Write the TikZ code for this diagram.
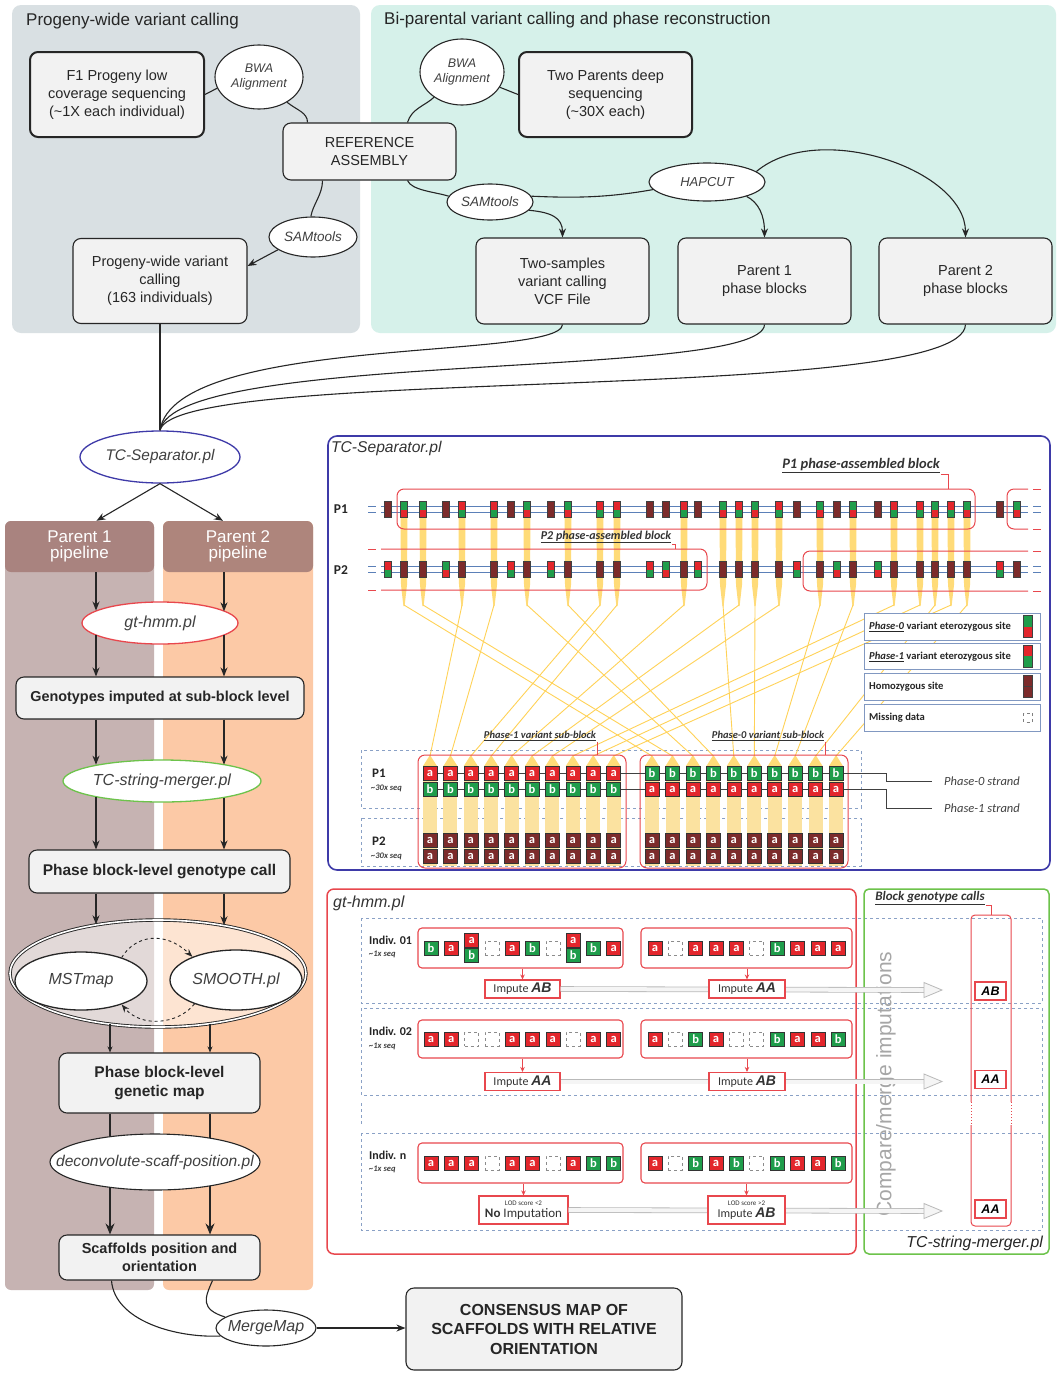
\documentclass[tikz,border=0pt]{standalone}
\usepackage{fontspec}
\setmainfont{Liberation Sans}
\newfontfamily\carl{Carlito}
\usetikzlibrary{arrows.meta,shapes.geometric,calc}

\definecolor{panelgray}{HTML}{D9E0E3}
\definecolor{panelmint}{HTML}{D6F1EA}
\definecolor{boxfill}{HTML}{F2F2F2}
\definecolor{hdrA}{HTML}{A9837F}
\definecolor{colA}{HTML}{C6B3B2}
\definecolor{hdrB}{HTML}{AE857C}
\definecolor{colB}{HTML}{FCC9A6}
\definecolor{sepblue}{HTML}{3E3AA8}
\definecolor{hmmred}{HTML}{E8474D}
\definecolor{mrggreen}{HTML}{6DC34B}
\definecolor{cR}{HTML}{E3262C}
\definecolor{cG}{HTML}{1F9D4B}
\definecolor{cH}{HTML}{7C2B2B}
\definecolor{strandblue}{HTML}{5B80B8}
\definecolor{yel}{HTML}{FFD257}
\definecolor{yelpale}{HTML}{FBE2A0}
\definecolor{dashblue}{HTML}{8AA1C6}
\definecolor{legblue}{HTML}{8198C1}

\newcommand\fsz[2]{\fontsize{#1}{#2}\selectfont}
% one two-allele variant site: x, y centre, upper colour, lower colour
\newcommand\gsite[4]{%
  \fill[#3] (#1-3.5,#2-8) rectangle (#1+3.5,#2);
  \fill[#4] (#1-3.5,#2) rectangle (#1+3.5,#2+8);
  \draw[black!75, line width=.6pt] (#1-3.5,#2-8) rectangle (#1+3.5,#2+8);}

\tikzset{
  rbox/.style={draw=black!85, line width=1.1pt, fill=boxfill, rounded corners=8pt,
    align=center, inner sep=2pt, text=black!85, font=\fsz{14.5}{18}},
  thickbox/.style={rbox, line width=2pt},
  bbox/.style={rbox, font=\bfseries\fsz{15.5}{19}},
  ovl/.style={ellipse, draw=black!85, line width=1.1pt, fill=white, inner sep=0pt},
  olbl/.style={align=center, text=black!75, inner sep=0pt},
  conn/.style={draw=black!85, line width=1.1pt},
  connA/.style={conn, -{Stealth[length=9pt,width=7pt]}},
  connS/.style={conn, -{Stealth[length=6pt,width=5pt]}},
  connL/.style={conn, -{Stealth[length=11pt,width=9pt]}},
  hdr/.style={rounded corners=6pt, minimum width=149pt, minimum height=51pt,
    text=white, align=center, font=\fsz{17}{16}},
  strand/.style={draw=strandblue, line width=1.1pt},
  redline/.style={draw=hmmred, line width=1pt},
  leader/.style={draw=hmmred, line width=.8pt},
  gcell/.style={minimum size=14pt, inner sep=0pt, draw=black!80, line width=.5pt,
    text=white, font=\carl\bfseries\fsz{12.5}{12}},
  gc-a/.style={gcell, fill=cR, node contents=a},
  gc-b/.style={gcell, fill=cG, node contents=b},
  gc-e/.style={gcell, draw=black!45, dashed, line width=.6pt, fill=white, node contents={}},
  gc-d/.style={gcell, draw=none, node contents={}},
  grp/.style={draw=hmmred, line width=1.1pt, rounded corners=4pt, inner sep=0pt},
  imp/.style={draw=hmmred, line width=1.1pt, fill=white, inner sep=1pt, align=center,
    text=black!80, font=\carl\fsz{12}{12}},
  redarr/.style={draw=hmmred, line width=1pt, -{Stealth[length=5pt,width=4.5pt]}},
  band/.style={draw=gray!55, line width=.8pt, double=gray!8, double distance=4pt},
  bhead/.style={draw=gray!55, line width=.8pt, fill=gray!8},
  gcall/.style={draw=hmmred, line width=1.3pt, fill=white, minimum width=31pt,
    minimum height=18pt, inner sep=0pt, font=\bfseries\itshape\fsz{12.5}{12}},
  legbox/.style={draw=legblue, line width=1.2pt, fill=white, minimum width=176pt,
    minimum height=27pt, anchor=north west, inner sep=0pt},
  legtxt/.style={anchor=west, inner sep=0pt, text=black!85, font=\carl\bfseries\fsz{10.6}{10}},
  dashrow/.style={draw=dashblue, dashed, line width=.9pt},
}

\begin{document}
\begin{tikzpicture}[x=1pt,y=-1pt]
\useasboundingbox (0,0) rectangle (1058,1373);
\fill[white] (0,0) rectangle (1058,1373);

% ---------------- top panels ----------------
\fill[panelgray, rounded corners=9pt] (12,5) rectangle (360,333);
\fill[panelmint, rounded corners=9pt] (371,5) rectangle (1056,333);
\node[anchor=west, inner sep=0pt, text=black!85, font=\fsz{17}{18}] (t1) at (26,21) {Progeny-wide variant calling};
\node[anchor=west, inner sep=0pt, text=black!85, font=\fsz{17}{18}] (t2) at (384,20) {Bi-parental variant calling and phase reconstruction};

\node[thickbox, minimum width=174pt, minimum height=85pt] (f1) at (117,94.5) {F1 Progeny low\\coverage sequencing\\(\textasciitilde1X each individual)};
\node[rbox, minimum width=173pt, minimum height=57pt] (ref) at (369.5,151.5) {REFERENCE\\ASSEMBLY};
\node[rbox, minimum width=174pt, minimum height=85pt] (prog) at (160,281) {Progeny-wide variant\\calling\\(163 individuals)};
\node[thickbox, minimum width=173pt, minimum height=85pt] (twop) at (605.5,94.5) {Two Parents deep\\sequencing\\(\textasciitilde30X each)};
\node[rbox, minimum width=173pt, minimum height=86pt] (twos) at (562.5,281) {Two-samples\\variant calling\\VCF File};
\node[rbox, minimum width=173pt, minimum height=86pt] (par1) at (764.5,281) {Parent 1\\phase blocks};
\node[rbox, minimum width=173pt, minimum height=86pt] (par2) at (965.5,281) {Parent 2\\phase blocks};

\node[ovl, minimum width=88pt, minimum height=64pt] (bwa1) at (259,77) {};
\node[olbl, font=\itshape\fsz{12.5}{15}] (bwa1t) at (bwa1) {BWA\\Alignment};
\node[ovl, minimum width=88pt, minimum height=40pt] (sam1) at (313,237) {};
\node[olbl, font=\itshape\fsz{13.5}{13}] (sam1t) at (sam1) {SAMtools};
\node[ovl, minimum width=84pt, minimum height=66pt] (bwa2) at (462,72) {};
\node[olbl, font=\itshape\fsz{12.5}{15}] (bwa2t) at (bwa2) {BWA\\Alignment};
\node[ovl, minimum width=86pt, minimum height=36pt] (sam2) at (490,202) {};
\node[olbl, font=\itshape\fsz{13.5}{13}] (sam2t) at (sam2) {SAMtools};
\node[ovl, minimum width=116pt, minimum height=38pt] (hap) at (707,182) {};
\node[olbl, font=\itshape\fsz{13}{13}] (hapt) at (hap) {HAPCUT};

\draw[conn] (f1.east) -- (bwa1.195);
\draw[conn] (bwa1.318) .. controls +(10,8) and +(0,-10) .. ([xshift=-62pt]ref.north);
\draw[conn] ([xshift=-47pt]ref.south) .. controls +(0,14) and +(2,-12) .. (sam1.96);
\draw[connA] (sam1.200) -- ([yshift=15pt]prog.east);
\draw[conn] ([xshift=38pt]ref.north) .. controls +(4,-14) and +(-8,8) .. (bwa2.222);
\draw[conn] (bwa2.-22) -- (twop.west);
\draw[conn] ([xshift=38pt]ref.south) .. controls +(4,10) and +(-12,-4) .. (sam2.172);
\draw[conn] (sam2.8) .. controls +(45,2) and +(-45,8) .. (hap.188);
\draw[connA] (sam2.-12) .. controls +(22,2) and +(0,-20) .. (twos.north);
\draw[connA] (hap.-20) .. controls +(12,6) and +(0,-22) .. (par1.north);
\draw[connA] (hap.12) .. controls +(62,-52) and +(0,-68) .. (par2.north);

% ---------------- separator ----------------
\node[ovl, draw=sepblue, line width=1.3pt, minimum width=160pt, minimum height=52pt] (tcs) at (160,457) {};
\node[olbl, font=\itshape\fsz{15.4}{15}] (tcst) at (tcs) {TC-Separator.pl};
\draw[conn] (prog.south) -- (tcs.north);
\draw[conn] (twos.south) .. controls +(-2,36) and +(15,-96) .. (tcs.north);
\draw[conn] (par1.south) .. controls +(-2,56) and +(15,-81) .. (tcs.north);
\draw[conn] (par2.south) .. controls +(-3,81) and +(15,-66) .. (tcs.north);

% ---------------- pipeline columns ----------------
\fill[colA, rounded corners=6pt] (5,521) rectangle (154,1290);
\fill[colB, rounded corners=6pt] (163,521) rectangle (313,1290);
\node[hdr, fill=hdrA] (h1) at (79.5,546.5) {Parent 1\\pipeline};
\node[hdr, fill=hdrB, minimum width=150pt] (h2) at (238,546.5) {Parent 2\\pipeline};
\coordinate (L1) at (96,0);
\coordinate (L2) at (224,0);
\coordinate (M1) at (110,0);
\coordinate (M2) at (210,0);
\draw[connA] (tcs.south) -- ([xshift=17pt]h1.north);
\draw[connA] (tcs.south) -- ([xshift=-15pt]h2.north);

\node[ovl, draw=hmmred, line width=1.3pt, minimum width=156pt, minimum height=42pt] (gth) at (160,623) {};
\node[olbl, font=\itshape\fsz{16}{16}] (gtht) at (gth) {gt-hmm.pl};
\node[rbox, font=\bfseries\fsz{14.4}{16}, minimum width=288pt, minimum height=42pt] (geno) at (160,698) {Genotypes imputed at sub-block level};
\node[ovl, draw=mrggreen, line width=1.3pt, minimum width=198pt, minimum height=42pt] (tcm) at (162,781) {};
\node[olbl, font=\itshape\fsz{16}{16}] (tcmt) at (tcm) {TC-string-merger.pl};
\node[bbox, minimum width=261pt, minimum height=43pt] (pbgc) at (159.5,871.5) {Phase block-level genotype call};

\node[ellipse, draw=black!85, line width=.9pt, double=white, double distance=1.6pt, fill=white, fill opacity=.5, minimum width=296pt, minimum height=107pt, inner sep=0pt] (big) at (158,973.5) {};
\node[ovl, line width=1.3pt, minimum width=132pt, minimum height=58pt] (mst) at (81,981) {};
\node[olbl, font=\itshape\fsz{16}{16}] (mstt) at (mst) {MSTmap};
\node[ovl, line width=1.3pt, minimum width=132pt, minimum height=60pt] (smo) at (236,980) {};
\node[olbl, font=\itshape\fsz{16}{16}] (smot) at (smo) {SMOOTH.pl};
\draw[conn, line width=.9pt, dashed, -{Stealth[length=8pt,width=6pt]}] (mst.30) .. controls +(14,-23) and +(-27,-26) .. (smo.152);
\draw[conn, line width=.9pt, dashed, -{Stealth[length=8pt,width=6pt]}] (smo.210) .. controls +(-17,21) and +(19,23) .. (mst.-30);

\node[bbox, minimum width=201pt, minimum height=60pt] (gmap) at (159.5,1083) {Phase block-level\\genetic map};
\node[ovl, minimum width=210pt, minimum height=56pt] (dec) at (155,1162) {};
\node[olbl, font=\itshape\fsz{15.6}{15}] (dect) at (dec) {deconvolute-scaff-position.pl};
\node[bbox, font=\bfseries\fsz{14.5}{18}, minimum width=201pt, minimum height=45pt] (scaf) at (159.5,1257.5) {Scaffolds position and\\orientation};

\draw[connA] (L1 |- h1.south) -- (L1 |- gth.169.4);
\draw[connA] (L2 |- h2.south) -- (L2 |- gth.10.6);
\draw[connA] (L1 |- gth.190.6) -- (L1 |- geno.north);
\draw[connA] (L2 |- gth.349.4) -- (L2 |- geno.north);
\draw[connA] (L1 |- geno.south) -- (L1 |- tcm.166.6);
\draw[connA] (L2 |- geno.south) -- (L2 |- tcm.14.8);
\draw[connA] (L1 |- tcm.193.4) -- (L1 |- pbgc.north);
\draw[connA] (L2 |- tcm.345.2) -- (L2 |- pbgc.north);
\draw[connA] (L1 |- pbgc.south) -- (L1 |- big.141.9);
\draw[connA] (L2 |- pbgc.south) -- (L2 |- big.36.0);
\draw[connS] (M1 |- big.226.5) -- (M1 |- gmap.north);
\draw[connS] (M2 |- big.316.1) -- (M2 |- gmap.north);
\draw[conn] (M1 |- gmap.south) -- (M1 |- dec.150.8);
\draw[conn] (M2 |- gmap.south) -- (M2 |- dec.23.4);
\draw[connL] (M1 |- dec.209.2) -- (M1 |- scaf.north);
\draw[connL] (M2 |- dec.336.6) -- (M2 |- scaf.north);

% ---------------- merge ----------------
\node[ovl, minimum width=100pt, minimum height=36pt] (mm) at (266,1328) {};
\node[olbl, font=\itshape\fsz{16}{16}] (mmt) at (mm) {MergeMap};
\node[bbox, font=\bfseries\fsz{16}{19.5}, minimum width=276pt, minimum height=82pt] (cons) at (544,1329) {CONSENSUS MAP OF\\SCAFFOLDS WITH RELATIVE\\ORIENTATION};
\draw[conn] ([xshift=-48pt]scaf.south) .. controls +(3,40) and +(-45,2) .. (mm.190);
\draw[conn] ([xshift=53pt]scaf.south) .. controls +(-8,18) and +(-25,-8) .. (mm.165);
\draw[connA] (mm.east) -- (cons.west |- mm.east);

% ---------------- TC-Separator panel ----------------
\draw[sepblue, line width=1.6pt, rounded corners=9pt] (328,436) rectangle (1050,870);
\node[anchor=west, inner sep=0pt, text=black!80, font=\itshape\fsz{15.6}{15}] (sepT) at (331,448) {TC-Separator.pl};

\draw[dashrow] (361,750) rectangle (861,808);
\draw[dashrow] (361,818) rectangle (861,866);

% informative sites of parent 1 routed to the sub-blocks
\foreach \s/\cx in {462/430,494/450.4,600/470.8,617/491.2,684/511.6,739/532,779/552.4,894/572.8,920/593.2,951/613.6,
                    404/652,423/672.5,527/692.9,568/713.4,723/733.8,755/754.3,820/774.7,853/795.2,935/815.6,967/836} {
  \fill[yel, opacity=.8] (\s-3.5,513) -- (\s+3.5,513) -- (\s+3,585) -- (\s+.6,606) -- (\s-.6,606) -- (\s-3,585) -- cycle;
  \draw[yel, line width=.9pt] (\s,605) -- (\cx,756);
  \fill[yel, opacity=.8] (\cx,755) -- (\cx+7,766) -- (\cx-7,766) -- cycle;
  \fill[yelpale] (\cx-7,766) rectangle (\cx+7,866);
}

% chromosome strands
\draw[strand] (381,506.5) -- (1028,506.5) (381,512.5) -- (1028,512.5);
\draw[strand] (368,506.5) -- (376,506.5) (368,512.5) -- (376,512.5);
\draw[strand] (1033,506.5) -- (1041,506.5) (1033,512.5) -- (1041,512.5);
\draw[strand] (381,566.5) -- (1028,566.5) (381,572.5) -- (1028,572.5);
\draw[strand] (368,566.5) -- (376,566.5) (368,572.5) -- (376,572.5);
\draw[strand] (1033,566.5) -- (1041,566.5) (1033,572.5) -- (1041,572.5);

\foreach \x/\su/\sd in {388/cH/cH,404/cG/cR,423/cG/cR,446/cH/cH,462/cR/cG,494/cR/cG,511/cH/cH,527/cG/cR,551/cH/cH,568/cG/cR,
  600/cR/cG,617/cR/cG,650/cH/cH,666/cH/cH,684/cR/cG,698/cH/cH,723/cG/cR,739/cR/cG,755/cG/cR,779/cR/cG,797/cH/cH,
  820/cG/cR,837/cH/cH,853/cG/cR,878/cH/cH,894/cR/cG,920/cR/cG,935/cG/cR,951/cR/cG,967/cG/cR,1000/cH/cH,1017/cG/cR}
  {\gsite{\x}{509.5}{\su}{\sd}}
\foreach \x/\su/\sd in {388/cR/cG,404/cH/cH,423/cH/cH,446/cG/cR,462/cH/cH,494/cH/cH,511/cR/cG,527/cH/cH,551/cR/cG,568/cH/cH,
  600/cH/cH,617/cH/cH,650/cR/cG,666/cG/cR,684/cH/cH,698/cR/cG,723/cH/cH,739/cH/cH,755/cH/cH,779/cH/cH,797/cR/cG,
  820/cH/cH,837/cG/cR,853/cH/cH,878/cG/cR,894/cH/cH,920/cH/cH,935/cH/cH,951/cH/cH,967/cH/cH,1000/cR/cG,1017/cH/cH}
  {\gsite{\x}{569.5}{\su}{\sd}}

% phase-assembled blocks
\draw[redline, rounded corners=7pt] (397,489) rectangle (975,529);
\draw[redline, rounded corners=7pt] (1028,489) -- (1007,489) -- (1007,529) -- (1028,529);
\draw[redline] (1033,489) -- (1041,489) (1033,529) -- (1041,529);
\draw[redline, rounded corners=7pt] (381,549) -- (707,549) -- (707,590) -- (381,590);
\draw[redline] (368,549) -- (376,549) (368,590) -- (376,590);
\draw[redline, rounded corners=7pt] (1028,551) -- (803,551) -- (803,591) -- (1028,591);
\draw[redline] (1033,551) -- (1041,551) (1033,591) -- (1041,591);

\node[inner sep=1pt, text=black!80, font=\carl\bfseries\itshape\fsz{14.5}{14}] (p1lab) at (861,466) {\underline{P1 phase-assembled block}};
\draw[leader] (p1lab.south east) -| (948,489);
\node[inner sep=1pt, text=black!80, font=\carl\bfseries\itshape\fsz{12}{12}] (p2lab) at (606,537) {\underline{P2 phase-assembled block}};
\draw[leader] (p2lab.south east) -| (675,549);

\node[text=black!85, font=\carl\bfseries\fsz{13.5}{13}] (p1) at (341,509.5) {P1};
\node[text=black!85, font=\carl\bfseries\fsz{13.5}{13}] (p2) at (341,570) {P2};

% sub-blocks
\node[draw=hmmred, line width=1pt, rounded corners=7pt, minimum width=208pt, minimum height=113pt, inner sep=0pt] (lsb) at (522,811.5) {};
\node[draw=hmmred, line width=1pt, rounded corners=7pt, minimum width=208pt, minimum height=113pt, inner sep=0pt] (rsb) at (744,811.5) {};
\node[inner sep=1pt, text=black!80, font=\carl\bfseries\itshape\fsz{10.5}{10}] (lsbl) at (540,736) {\underline{Phase-1 variant sub-block}};
\node[inner sep=1pt, text=black!80, font=\carl\bfseries\itshape\fsz{10.5}{10}] (rsbl) at (768,736) {\underline{Phase-0 variant sub-block}};
\draw[leader] (lsbl.south east) -| (lsbl.south east |- lsb.north);
\draw[leader] (rsbl.south east) -| (rsbl.south east |- rsb.north);

\node[anchor=west, inner sep=0pt, text=black!75, font=\carl\itshape\fsz{12.5}{12}] (ph0) at (944,781) {Phase-0 strand};
\node[anchor=west, inner sep=0pt, text=black!75, font=\carl\itshape\fsz{12.5}{12}] (ph1) at (944,808) {Phase-1 strand};
\draw[black!75, line width=1pt] (423,773) -- (886,773) |- ([xshift=-12pt]ph0.west);
\draw[black!75, line width=1pt] (423,789) -- (886,789) |- ([xshift=-12pt]ph1.west);

\foreach \i in {0,...,9} {
  \node[name=sa\i, at={(430+20.4*\i,773)}, gc-a];
  \node[name=sb\i, at={(430+20.4*\i,789)}, gc-b];
  \node[name=tb\i, at={(652+20.45*\i,773)}, gc-b];
  \node[name=ta\i, at={(652+20.45*\i,789)}, gc-a];
  \node[name=ua\i, at={(430+20.4*\i,840.5)}, gcell, fill=cH] {a};
  \node[name=ub\i, at={(430+20.4*\i,856.5)}, gcell, fill=cH] {a};
  \node[name=va\i, at={(652+20.45*\i,840.5)}, gcell, fill=cH] {a};
  \node[name=vb\i, at={(652+20.45*\i,856.5)}, gcell, fill=cH] {a};
}
\node[anchor=west, inner sep=0pt, text=black!85, font=\carl\bfseries\fsz{13}{12}] (sp1) at (372,773) {P1};
\node[anchor=west, inner sep=0pt, text=black!75, font=\carl\bfseries\itshape\fsz{8.5}{8}] (sp1s) at (371,788) {\textasciitilde30x seq};
\node[anchor=west, inner sep=0pt, text=black!85, font=\carl\bfseries\fsz{13}{12}] (sp2) at (372,841) {P2};
\node[anchor=west, inner sep=0pt, text=black!75, font=\carl\bfseries\itshape\fsz{8.5}{8}] (sp2s) at (371,856) {\textasciitilde30x seq};

% legend
\node[legbox] (lg1) at (864,613) {};
\node[legtxt] (lg1t) at ([xshift=5pt]lg1.west) {\underline{\textit{Phase-0}} variant eterozygous site};
\node[legbox, minimum height=26pt] (lg2) at (864,643) {};
\node[legtxt] (lg2t) at ([xshift=5pt]lg2.west) {\underline{\textit{Phase-1}} variant eterozygous site};
\node[legbox] (lg3) at (864,673) {};
\node[legtxt] (lg3t) at ([xshift=5pt]lg3.west) {Homozygous site};
\node[legbox] (lg4) at (864,704) {};
\node[legtxt] (lg4t) at ([xshift=5pt]lg4.west) {Missing data};
\fill[cG] (1023.5,615.5) rectangle (1032.5,626.5); \fill[cR] (1023.5,626.5) rectangle (1032.5,637.5);
\draw[black!75, line width=.6pt] (1023.5,615.5) rectangle (1032.5,637.5);
\fill[cR] (1023.5,645) rectangle (1032.5,656); \fill[cG] (1023.5,656) rectangle (1032.5,667);
\draw[black!75, line width=.6pt] (1023.5,645) rectangle (1032.5,667);
\fill[cH] (1023.5,675.5) rectangle (1032.5,697.5);
\draw[black!75, line width=.6pt] (1023.5,675.5) rectangle (1032.5,697.5) (1023.5,686.5) -- (1032.5,686.5);
\draw[black!50, dashed, line width=.6pt] (1023.5,713) rectangle (1032.5,722);

% ---------------- gt-hmm and merger panels ----------------
\draw[dashrow] (361,918) rectangle (1042,1003);
\draw[dashrow] (361,1008) rectangle (1042,1095);
\draw[dashrow] (361,1133) rectangle (1042,1230);
\draw[dashrow] (361,1103) -- (361,1125) (1042,1103) -- (1042,1125);

\node[rotate=90, text=black!35, font=\fsz{21}{21}] (cmp) at (886,1084) {Compare/merge imputations};

\draw[hmmred, line width=1.5pt, rounded corners=7pt] (327,889) rectangle (856,1254);
\draw[mrggreen, line width=1.5pt, rounded corners=5pt] (864,889) rectangle (1049,1254);
\node[anchor=west, inner sep=0pt, text=black!80, font=\itshape\fsz{16}{16}] (hmmT) at (333,903) {gt-hmm.pl};
\node[anchor=east, inner sep=0pt, text=black!85, font=\itshape\fsz{15.8}{16}] (mrgT) at (1043,1243) {TC-string-merger.pl};

% individuals
\node[anchor=west, inner sep=0pt, text=black!85, font=\carl\bfseries\fsz{12}{12}] (in1) at (369,940) {Indiv. 01};
\node[anchor=west, inner sep=0pt, text=black!75, font=\carl\bfseries\itshape\fsz{8.5}{8}] (in1s) at (369,954) {\textasciitilde1x seq};
\node[anchor=west, inner sep=0pt, text=black!85, font=\carl\bfseries\fsz{12}{12}] (in2) at (369,1031) {Indiv. 02};
\node[anchor=west, inner sep=0pt, text=black!75, font=\carl\bfseries\itshape\fsz{8.5}{8}] (in2s) at (369,1046) {\textasciitilde1x seq};
\node[anchor=west, inner sep=0pt, text=black!85, font=\carl\bfseries\fsz{12}{12}] (in3) at (369,1155) {Indiv. n};
\node[anchor=west, inner sep=0pt, text=black!75, font=\carl\bfseries\itshape\fsz{8.5}{8}] (in3s) at (369,1169) {\textasciitilde1x seq};

\node[grp, minimum width=205pt, minimum height=40pt] (g1l) at (520.5,948) {};
\node[grp, minimum width=211pt, minimum height=40pt] (g1r) at (746.5,948) {};
\node[grp, minimum width=205pt, minimum height=38pt] (g2l) at (520.5,1039) {};
\node[grp, minimum width=211pt, minimum height=38pt] (g2r) at (746.5,1039) {};
\node[grp, minimum width=205pt, minimum height=40pt] (g3l) at (520.5,1163) {};
\node[grp, minimum width=211pt, minimum height=40pt] (g3r) at (746.5,1163) {};

\foreach \c [count=\i from 0] in {b,a,d,e,a,b,e,d,b,a} {\node[name=r1l\i, at={(431+20.3*\i,948)}, gc-\c];}
\foreach \c [count=\i from 0] in {a,e,a,a,a,e,b,a,a,a} {\node[name=r1r\i, at={(655+20.35*\i,948)}, gc-\c];}
\node[name=d1a, at={(471.6,940.5)}, gc-a]; \node[name=d1b, at={(471.6,955.5)}, gc-b];
\node[name=d2a, at={(573.1,940.5)}, gc-a]; \node[name=d2b, at={(573.1,955.5)}, gc-b];
\foreach \c [count=\i from 0] in {a,a,e,e,a,a,a,e,a,a} {\node[name=r2l\i, at={(431+20.3*\i,1039)}, gc-\c];}
\foreach \c [count=\i from 0] in {a,e,b,a,e,e,b,a,a,b} {\node[name=r2r\i, at={(655+20.35*\i,1039)}, gc-\c];}
\foreach \c [count=\i from 0] in {a,a,a,e,a,a,e,a,b,b} {\node[name=r3l\i, at={(431+20.3*\i,1163)}, gc-\c];}
\foreach \c [count=\i from 0] in {a,e,b,a,b,e,b,a,a,b} {\node[name=r3r\i, at={(655+20.35*\i,1163)}, gc-\c];}

% imputation results and their flow to the merger
\coordinate (tip1) at (924,990);
\coordinate (tip2) at (924,1081.5);
\coordinate (tip3) at (924,1211);
\node[imp, minimum width=75pt, minimum height=18pt] (i1l) at (522.5,989) {Impute {\rmfamily\bfseries\itshape\fsz{14}{13}AB}};
\node[imp, minimum width=89pt, minimum height=28pt] (i3l) at (523.5,1210) {{\fsz{7}{9}LOD score <2}\\{\fsz{13}{13}\textbf{No} Imputation}};
\node[imp, minimum width=75pt, minimum height=18pt] (i2l) at (522.5,1081.5) {Impute {\rmfamily\bfseries\itshape\fsz{14}{13}AA}};
\draw[band] (i1l.east) -- (tip1);
\draw[band] (i2l.east) -- (tip2);
\draw[band] (i3l.east) -- (tip3);
\foreach \t in {tip1,tip2,tip3} {\draw[bhead] ($(\t)+(0,-7.5)$) -- ($(\t)+(18,0)$) -- ($(\t)+(0,7.5)$) -- cycle;}
\node[imp, minimum width=76pt, minimum height=18pt] (i1r) at (747,989) {Impute {\rmfamily\bfseries\itshape\fsz{14}{13}AA}};
\node[imp, minimum width=76pt, minimum height=18pt] (i2r) at (747,1081.5) {Impute {\rmfamily\bfseries\itshape\fsz{14}{13}AB}};
\node[imp, minimum width=77pt, minimum height=28pt] (i3r) at (746.5,1210) {{\fsz{7}{9}LOD score >2}\\Impute {\rmfamily\bfseries\itshape\fsz{14}{13}AB}};
\foreach \g/\m in {g1l/i1l,g1r/i1r,g2l/i2l,g2r/i2r,g3l/i3l,g3r/i3r} {\draw[redarr] (\g.south -| \m.north) -- (\m.north);}

% block genotype calls
\draw[hmmred, line width=1pt, rounded corners=4pt] (971,1102) -- (971,915) -- (1011,915) -- (1011,1102);
\draw[hmmred, line width=1pt, rounded corners=4pt] (971,1125) -- (971,1226) -- (1011,1226) -- (1011,1125);
\draw[hmmred, line width=1pt, dotted] (971,1102) -- (971,1125) (1011,1102) -- (1011,1125);
\node[inner sep=1pt, text=black!80, font=\carl\bfseries\itshape\fsz{13}{12}] (bgc) at (930,898) {\underline{Block genotype calls}};
\draw[leader] (bgc.south east) -| (991,915);
\node[gcall] (bc1) at (990.5,991) {AB};
\node[gcall] (bc2) at (990.5,1079.5) {AA};
\node[gcall] (bc3) at (990.5,1209) {AA};

\end{tikzpicture}
\end{document}
